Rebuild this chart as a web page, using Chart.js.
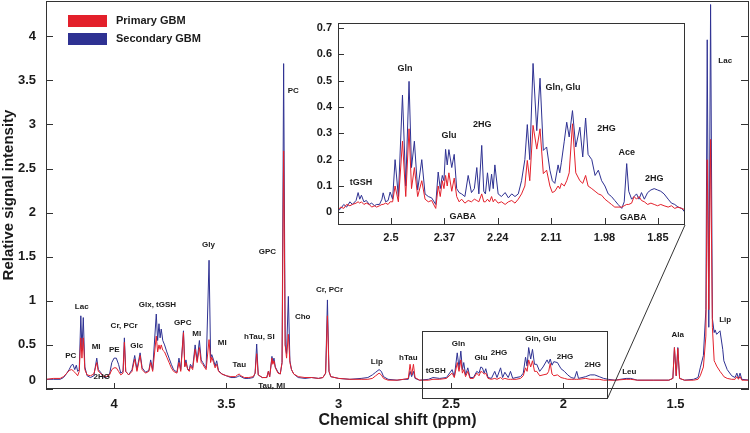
<!DOCTYPE html>
<html>
<head>
<meta charset="utf-8">
<script src="https://cdn.jsdelivr.net/npm/chart.js@4.4.1/dist/chart.umd.min.js"></script>
<style>
  html, body { margin: 0; padding: 0; background: #fff; }
  #wrap { position: relative; width: 750px; height: 433px; }
  #main { position: absolute; left: 0; top: 0; }
  #inset { position: absolute; left: 300px; top: 10px; }
</style>
</head>
<body>
<div id="wrap">
  <canvas id="main" width="750" height="433"></canvas>
  <canvas id="inset" width="395" height="245"></canvas>
</div>
<script>
const RED = '#e3202b';
const BLUE = '#2e3192';
const INK = '#1a1a1a';
const FONT = '"Liberation Sans", Arial, sans-serif';

// full spectrum, chemical shift (ppm) and relative intensity
const mainShift = [4.30, 4.27, 4.24, 4.225, 4.21, 4.20, 4.19, 4.183, 4.175, 4.168, 4.162, 4.155, 4.148, 4.143, 4.137, 4.13, 4.12, 4.105, 4.09, 4.077,
  4.07, 4.06, 4.05, 4.035, 4.02, 4.01, 4.00, 3.99, 3.98, 3.97, 3.96, 3.954, 3.948, 3.935, 3.92, 3.908, 3.898, 3.884, 3.875, 3.86,
  3.845, 3.837, 3.828, 3.812, 3.806, 3.80, 3.795, 3.79, 3.783, 3.775, 3.765, 3.755, 3.745, 3.735, 3.72, 3.711, 3.703, 3.691, 3.685, 3.68,
  3.672, 3.665, 3.66, 3.65, 3.639, 3.63, 3.62, 3.612, 3.605, 3.598, 3.59, 3.577, 3.57, 3.565, 3.557, 3.55, 3.543, 3.535, 3.52, 3.50,
  3.48, 3.46, 3.45, 3.443, 3.435, 3.42, 3.40, 3.38, 3.372, 3.365, 3.358, 3.34, 3.32, 3.313, 3.307, 3.297, 3.293, 3.288, 3.282, 3.27,
  3.26, 3.252, 3.245, 3.238, 3.232, 3.224, 3.217, 3.21, 3.20, 3.18, 3.15, 3.12, 3.09, 3.07, 3.058, 3.05, 3.043, 3.035, 3.00, 2.95,
  2.90, 2.87, 2.85, 2.835, 2.82, 2.81, 2.80, 2.78, 2.74, 2.71, 2.69, 2.682, 2.675, 2.667, 2.66, 2.64, 2.60, 2.58, 2.55, 2.52,
  2.495, 2.485, 2.472, 2.464, 2.456, 2.449, 2.443, 2.435, 2.425, 2.415, 2.40, 2.385, 2.375, 2.367, 2.36, 2.352, 2.345, 2.335, 2.32, 2.305,
  2.295, 2.279, 2.27, 2.26, 2.245, 2.235, 2.225, 2.21, 2.19, 2.178, 2.168, 2.161, 2.154, 2.145, 2.137, 2.128, 2.118, 2.105, 2.09, 2.072,
  2.065, 2.058, 2.05, 2.042, 2.026, 2.01, 1.995, 1.98, 1.965, 1.95, 1.94, 1.932, 1.90, 1.88, 1.86, 1.84, 1.82, 1.80, 1.77, 1.72,
  1.70, 1.67, 1.60, 1.53, 1.512, 1.505, 1.497, 1.49, 1.482, 1.46, 1.42, 1.40, 1.39, 1.376, 1.365, 1.359, 1.352, 1.344, 1.336, 1.328,
  1.324, 1.317, 1.302, 1.29, 1.285, 1.27, 1.25, 1.235, 1.227, 1.22, 1.213, 1.205, 1.17];
const mainPrimary = [.11, .12, .12, .14, .18, .21, .22, .21, .19, .17, .15, .20, .58, .35, .58, .22, .16, .15, .17, .30,
  .20, .18, .15, .14, .16, .22, .24, .24, .20, .16, .18, .53, .20, .16, .20, .34, .20, .38, .22, .18,
  .20, .30, .20, .60, .42, .50, .45, .50, .44, .42, .36, .30, .24, .20, .18, .30, .20, .64, .25, .30,
  .22, .20, .26, .22, .45, .30, .47, .30, .28, .25, .22, .56, .30, .36, .30, .24, .28, .20, .17, .15,
  .14, .14, .16, .17, .15, .13, .13, .14, .18, .40, .16, .13, .13, .20, .14, .35, .28, .32, .24, .18,
  .17, .30, 2.70, .50, .35, .62, .30, .22, .17, .14, .13, .13, .12, .13, .18, .83, .20, .14, .12, .11,
  .11, .11, .12, .15, .18, .16, .12, .10, .10, .11, .12, .28, .16, .28, .13, .10, .10, .11, .11, .12,
  .18, .13, .30, .20, .33, .18, .22, .14, .20, .12, .12, .18, .15, .20, .19, .17, .18, .12, .11, .12,
  .11, .13, .11, .12, .11, .11, .11, .11, .12, .15, .24, .20, .33, .25, .32, .20, .20, .15, .16, .17,
  .20, .29, .17, .15, .16, .13, .12, .11, .11, .11, .11, .11, .12, .11, .11, .11, .10, .10, .10, .11,
  .11, .10, .10, .10, .12, .47, .15, .46, .12, .10, .10, .11, .15, .25, .60, 2.60, .90, 2.83, .70, .32,
  .30, .26, .20, .16, .14, .12, .11, .11, .14, .11, .14, .10, .10];
const mainSecondary = [.11, .11, .11, .13, .18, .22, .27, .28, .22, .27, .20, .22, .83, .45, .81, .25, .15, .13, .15, .35,
  .22, .19, .14, .13, .17, .30, .35, .35, .28, .18, .20, .58, .20, .16, .22, .38, .22, .41, .24, .19,
  .21, .33, .22, .85, .55, .74, .58, .68, .55, .50, .42, .35, .28, .22, .19, .35, .22, .66, .26, .33,
  .22, .22, .28, .24, .50, .32, .55, .33, .30, .27, .24, 1.46, .35, .39, .33, .26, .32, .21, .17, .15,
  .13, .13, .14, .15, .14, .12, .12, .13, .18, .51, .16, .13, .13, .20, .14, .37, .30, .35, .25, .19,
  .17, .30, 3.69, .50, .40, 1.05, .32, .22, .17, .13, .12, .13, .12, .13, .18, 1.01, .20, .14, .12, .11,
  .12, .13, .16, .19, .22, .20, .14, .11, .10, .11, .11, .20, .14, .20, .12, .10, .11, .13, .12, .13,
  .22, .14, .41, .24, .43, .22, .30, .16, .24, .13, .13, .20, .18, .25, .24, .18, .23, .13, .12, .20,
  .13, .24, .13, .19, .13, .20, .12, .13, .14, .18, .36, .26, .47, .34, .45, .28, .28, .20, .25, .33,
  .29, .34, .27, .31, .30, .23, .20, .16, .13, .12, .20, .12, .14, .16, .16, .14, .12, .11, .10, .12,
  .12, .10, .10, .10, .12, .47, .15, .47, .12, .10, .11, .13, .24, .38, .90, 3.96, .70, 4.36, .80, .64,
  .67, .62, .66, .45, .32, .22, .15, .13, .18, .12, .18, .11, .10];

// enlarged 2.63-1.78 ppm region shown in the inset
const insetShift = [2.629, 2.622, 2.615, 2.608, 2.600, 2.594, 2.585, 2.580, 2.576, 2.572, 2.566, 2.560, 2.553, 2.547, 2.540, 2.535, 2.528, 2.522, 2.519, 2.513,
  2.507, 2.502, 2.496, 2.490, 2.482, 2.472, 2.464, 2.456, 2.450, 2.443, 2.435, 2.425, 2.417, 2.409, 2.401, 2.391, 2.385, 2.380, 2.375, 2.371,
  2.367, 2.363, 2.359, 2.352, 2.346, 2.340, 2.334, 2.328, 2.320, 2.312, 2.304, 2.297, 2.291, 2.286, 2.279, 2.274, 2.270, 2.265, 2.260, 2.255,
  2.251, 2.247, 2.239, 2.231, 2.222, 2.214, 2.206, 2.198, 2.190, 2.182, 2.174, 2.168, 2.162, 2.154, 2.145, 2.137, 2.129, 2.121, 2.113, 2.107,
  2.101, 2.093, 2.089, 2.085, 2.078, 2.072, 2.066, 2.058, 2.050, 2.040, 2.033, 2.026, 2.020, 2.011, 2.003, 1.995, 1.987, 1.979, 1.971, 1.963,
  1.955, 1.947, 1.938, 1.932, 1.926, 1.921, 1.914, 1.908, 1.902, 1.896, 1.890, 1.883, 1.875, 1.867, 1.859, 1.851, 1.843, 1.835, 1.825, 1.817,
  1.809, 1.801, 1.792, 1.784];
const insetPrimary = [.010, .020, .015, .030, .025, .030, .035, .040, .035, .040, .030, .035, .030, .020, .025, .020, .025, .030, .030, .035,
  .030, .040, .040, .100, .040, .270, .060, .317, .090, .170, .060, .120, .050, .040, .045, .015, .100, .060, .120, .090,
  .140, .100, .150, .080, .130, .060, .040, .050, .035, .045, .040, .050, .045, .040, .070, .040, .040, .050, .040, .060,
  .040, .050, .035, .040, .030, .040, .045, .035, .050, .070, .100, .197, .120, .330, .240, .317, .147, .160, .100, .075,
  .080, .100, .090, .110, .100, .120, .150, .336, .150, .120, .110, .140, .100, .090, .080, .070, .065, .050, .040, .030,
  .020, .020, .020, .025, .030, .030, .035, .060, .050, .060, .045, .040, .030, .035, .030, .025, .030, .025, .020, .025,
  .015, .020, .015, .010];
const insetSecondary = [.005, .015, .030, .020, .040, .030, .045, .075, .050, .065, .040, .045, .030, .035, .025, .030, .030, .050, .074, .040,
  .045, .077, .050, .200, .060, .445, .100, .497, .170, .270, .085, .200, .070, .060, .055, .030, .153, .090, .140, .120,
  .239, .180, .238, .170, .220, .090, .075, .070, .060, .140, .075, .090, .170, .070, .254, .080, .070, .150, .080, .145,
  .090, .180, .070, .060, .075, .055, .070, .060, .070, .120, .200, .333, .200, .565, .310, .509, .235, .248, .160, .120,
  .110, .180, .150, .190, .270, .342, .286, .386, .248, .323, .210, .358, .220, .200, .140, .160, .120, .100, .070, .060,
  .045, .030, .015, .040, .185, .080, .050, .060, .070, .050, .075, .050, .075, .085, .090, .085, .080, .070, .050, .035,
  .030, .020, .015, .000];

const mainXTicks = [4, 3.5, 3, 2.5, 2, 1.5];
const mainYTicks = [0, 0.5, 1, 1.5, 2, 2.5, 3, 3.5, 4];
const insetXTicks = [2.5, 2.37, 2.24, 2.11, 1.98, 1.85];
const insetYTicks = [0, 0.1, 0.2, 0.3, 0.4, 0.5, 0.6, 0.7];

// peak assignments: text, ppm, intensity
const mainLabels = [
  ['PC', 4.193, 0.38], ['Lac', 4.144, 0.93], ['MI', 4.080, 0.476], ['PE', 3.999, 0.44], ['2HG', 4.055, 0.14],
  ['Cr, PCr', 3.955, 0.72], ['Glc', 3.899, 0.487], ['Glx, tGSH', 3.807, 0.96], ['GPC', 3.694, 0.75], ['MI', 3.632, 0.627],
  ['Gly', 3.580, 1.64], ['MI', 3.518, 0.525], ['Tau', 3.442, 0.28], ['hTau, SI', 3.353, 0.59], ['GPC', 3.317, 1.56],
  ['Tau, MI', 3.298, 0.04], ['Cho', 3.160, 0.82], ['Cr, PCr', 3.041, 1.12], ['PC', 3.202, 3.38], ['Lip', 2.830, 0.31],
  ['hTau', 2.690, 0.355], ['tGSH', 2.568, 0.21], ['Gln', 2.467, 0.513], ['Glu', 2.366, 0.355], ['2HG', 2.286, 0.41],
  ['Gln, Glu', 2.100, 0.57], ['2HG', 1.992, 0.363], ['2HG', 1.869, 0.28], ['Leu', 1.706, 0.196], ['Ala', 1.490, 0.62],
  ['Lip', 1.279, 0.78], ['Lac', 1.279, 3.72]
];
const insetLabels = [
  ['tGSH', 2.573, 0.114], ['Gln', 2.466, 0.546], ['Glu', 2.359, 0.292], ['2HG', 2.278, 0.332], ['Gln, Glu', 2.081, 0.474],
  ['2HG', 1.975, 0.317], ['Ace', 1.926, 0.226], ['2HG', 1.859, 0.128], ['GABA', 2.325, -0.014], ['GABA', 1.910, -0.019]
];

Chart.defaults.font.family = FONT;
Chart.defaults.color = INK;

function points(xs, ys) {
  return xs.map(function(x, i) { return { x: x, y: ys[i] }; });
}

function spectrum(label, xs, ys, color) {
  return { label: label, data: points(xs, ys), borderColor: color, borderWidth: 1,
    pointRadius: 0, tension: 0, fill: false };
}

function frameAndTicks(chart, xTicks, yTicks, lenLeft, lenRight, lenBottom) {
  const ctx = chart.ctx, a = chart.chartArea;
  const xs = chart.scales.x, ys = chart.scales.y;
  ctx.save();
  ctx.strokeStyle = '#333';
  ctx.lineWidth = 1;
  ctx.strokeRect(Math.round(a.left) + 0.5, Math.round(a.top) + 0.5,
    Math.round(a.right - a.left) - 1, Math.round(a.bottom - a.top) - 1);
  ctx.beginPath();
  yTicks.forEach(function(v) {
    const y = Math.round(ys.getPixelForValue(v)) + 0.5;
    if (lenLeft) { ctx.moveTo(a.left, y); ctx.lineTo(a.left + lenLeft, y); }
    if (lenRight) { ctx.moveTo(a.right, y); ctx.lineTo(a.right - lenRight, y); }
  });
  xTicks.forEach(function(v) {
    const x = Math.round(xs.getPixelForValue(v)) + 0.5;
    ctx.moveTo(x, a.bottom); ctx.lineTo(x, a.bottom - lenBottom);
  });
  ctx.stroke();
  ctx.restore();
}

function peakLabels(chart, list, size) {
  const ctx = chart.ctx, xs = chart.scales.x, ys = chart.scales.y;
  ctx.save();
  ctx.font = 'bold ' + size + 'px ' + FONT;
  ctx.fillStyle = INK;
  ctx.textAlign = 'center';
  ctx.textBaseline = 'middle';
  list.forEach(function(l) {
    ctx.fillText(l[0], xs.getPixelForValue(l[1]), ys.getPixelForValue(l[2]));
  });
  ctx.restore();
}

// inset
const insetChart = new Chart(document.getElementById('inset').getContext('2d'), {
  type: 'line',
  data: { datasets: [
    spectrum('Primary GBM', insetShift, insetPrimary, RED),
    spectrum('Secondary GBM', insetShift, insetSecondary, BLUE)
  ] },
  options: {
    responsive: false,
    animation: false,
    layout: { padding: { top: 12, right: 10, left: 0, bottom: 0 } },
    plugins: { legend: { display: false }, tooltip: { enabled: false } },
    scales: {
      x: {
        type: 'linear', reverse: true, min: 1.784, max: 2.629,
        afterBuildTicks: function(s) { s.ticks = insetXTicks.map(function(v) { return { value: v }; }); },
        afterFit: function(s) { s.height = 30; },
        grid: { display: false, drawTicks: false }, border: { display: false },
        ticks: { padding: 6, maxRotation: 0, autoSkip: false, font: { size: 11, weight: 'bold' },
          callback: function(v) { return String(v); } }
      },
      y: {
        min: -0.048, max: 0.72,
        afterBuildTicks: function(s) { s.ticks = insetYTicks.map(function(v) { return { value: v }; }); },
        afterFit: function(s) { s.width = 38; },
        grid: { display: false, drawTicks: false }, border: { display: false },
        ticks: { padding: 6, font: { size: 11, weight: 'bold' },
          callback: function(v) { return String(v); } }
      }
    }
  },
  plugins: [{
    id: 'insetDecor',
    beforeDraw: function(chart) {
      const a = chart.chartArea;
      chart.ctx.save();
      chart.ctx.fillStyle = '#fff';
      chart.ctx.fillRect(a.left, a.top, a.right - a.left, a.bottom - a.top);
      chart.ctx.restore();
    },
    afterDraw: function(chart) {
      frameAndTicks(chart, insetXTicks, insetYTicks, 6, 0, 7);
      peakLabels(chart, insetLabels, 9);
    }
  }]
});

// main spectrum; tick labels are drawn by the plugin so the plot can use the full height
new Chart(document.getElementById('main').getContext('2d'), {
  type: 'line',
  data: { datasets: [
    spectrum('Primary GBM', mainShift, mainPrimary, RED),
    spectrum('Secondary GBM', mainShift, mainSecondary, BLUE)
  ] },
  options: {
    responsive: false,
    animation: false,
    layout: { padding: { top: 1, right: 1, left: 0, bottom: 0 } },
    plugins: { legend: { display: false }, tooltip: { enabled: false } },
    scales: {
      x: {
        type: 'linear', reverse: true, min: 1.173, max: 4.303,
        afterBuildTicks: function(s) { s.ticks = mainXTicks.map(function(v) { return { value: v }; }); },
        afterFit: function(s) { s.height = 44; },
        grid: { display: false, drawTicks: false }, border: { display: false },
        ticks: { display: false }
      },
      y: {
        min: 0, max: 4.40,
        afterBuildTicks: function(s) { s.ticks = mainYTicks.map(function(v) { return { value: v }; }); },
        afterFit: function(s) { s.width = 46; },
        grid: { display: false, drawTicks: false }, border: { display: false },
        ticks: { display: false }
      }
    }
  },
  plugins: [{
    id: 'mainDecor',
    afterDraw: function(chart) {
      const ctx = chart.ctx, a = chart.chartArea;
      const xs = chart.scales.x, ys = chart.scales.y;
      frameAndTicks(chart, mainXTicks, mainYTicks, 7, 8, 6);
      peakLabels(chart, mainLabels, 8);

      ctx.save();
      ctx.fillStyle = INK;
      ctx.font = 'bold 13px ' + FONT;
      ctx.textBaseline = 'middle';
      ctx.textAlign = 'right';
      mainYTicks.forEach(function(v) {
        // the zero label sits a little above its tick
        ctx.fillText(String(v), a.left - 10, ys.getPixelForValue(v) - (v === 0 ? 9 : 0));
      });
      ctx.textAlign = 'center';
      mainXTicks.forEach(function(v) {
        ctx.fillText(String(v), xs.getPixelForValue(v), a.bottom + 15);
      });

      // axis titles
      ctx.font = 'bold 16px ' + FONT;
      ctx.fillText('Chemical shift (ppm)', (a.left + a.right) / 2, 421);
      ctx.save();
      ctx.translate(9, (a.top + a.bottom) / 2);
      ctx.rotate(-Math.PI / 2);
      ctx.font = 'bold 15px ' + FONT;
      ctx.fillText('Relative signal intensity', 0, 0);
      ctx.restore();

      // legend
      ctx.fillStyle = RED;
      ctx.fillRect(68, 15, 39, 12);
      ctx.fillStyle = BLUE;
      ctx.fillRect(68, 33, 39, 12);
      ctx.fillStyle = INK;
      ctx.font = 'bold 11px ' + FONT;
      ctx.textAlign = 'left';
      ctx.fillText('Primary GBM', 116, 21);
      ctx.fillText('Secondary GBM', 116, 39);

      // zoom box and connector to the inset
      const bx0 = Math.round(xs.getPixelForValue(2.63)) + 0.5;
      const bx1 = Math.round(xs.getPixelForValue(1.805)) + 0.5;
      const by0 = Math.round(ys.getPixelForValue(0.66)) + 0.5;
      const by1 = Math.round(ys.getPixelForValue(-0.10)) + 0.5;
      ctx.strokeStyle = '#333';
      ctx.lineWidth = 1;
      ctx.strokeRect(bx0, by0, bx1 - bx0, by1 - by0);
      const ia = insetChart.chartArea;
      ctx.beginPath();
      ctx.moveTo(bx1, by1);
      ctx.lineTo(300 + ia.right, 10 + ia.bottom);
      ctx.stroke();
      ctx.restore();
    }
  }]
});
</script>
</body>
</html>
